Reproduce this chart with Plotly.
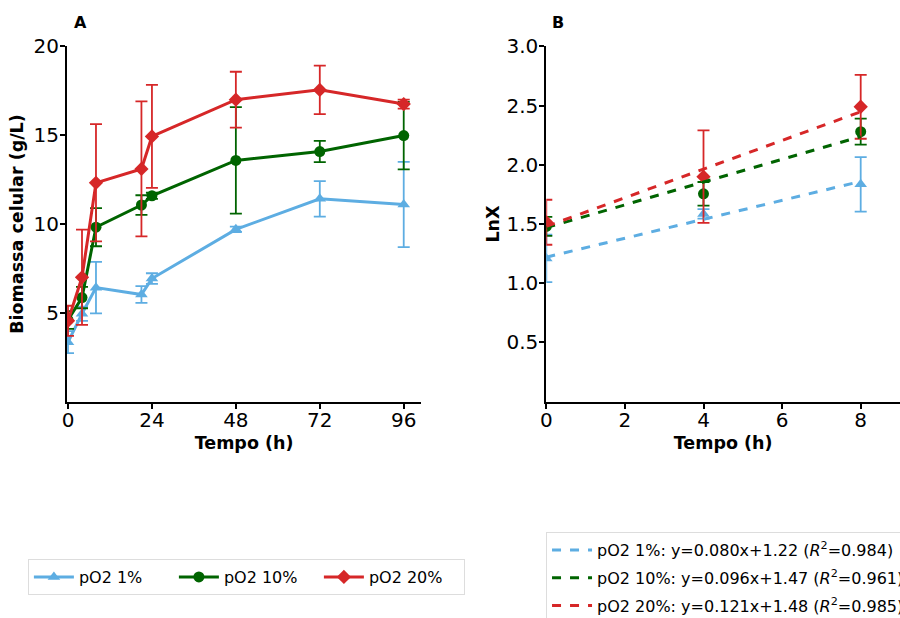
import plotly.graph_objects as go

# ---- Panel A data ----
tempo = [0, 4, 8, 21, 24, 48, 72, 96]
x_1 = [3.35, 4.95, 6.42, 6.03, 6.93, 9.70, 11.42, 11.10]
e_1 = [0.62, 0.40, 1.45, 0.47, 0.30, 0.15, 1.00, 2.40]
x_10 = [4.60, 5.86, 9.82, 11.07, 11.59, 13.58, 14.08, 14.98]
e_10 = [0.50, 0.60, 1.07, 0.55, 0.17, 3.00, 0.60, 1.90]
x_20 = [4.55, 7.00, 12.32, 13.10, 14.93, 17.00, 17.55, 16.75]
e_20 = [0.85, 2.68, 3.30, 3.80, 2.90, 1.57, 1.37, 0.25]

# ---- Panel B data ----
tempo_b = [0, 4, 8]
ln_1 = [1.21, 1.585, 1.835]
le_1 = [0.20, 0.04, 0.23]
ln_10 = [1.48, 1.755, 2.28]
le_10 = [0.08, 0.10, 0.11]
ln_20 = [1.515, 1.90, 2.49]
le_20 = [0.19, 0.39, 0.27]

slopes = [0.080, 0.096, 0.121]
intercepts = [1.22, 1.47, 1.48]
r2 = [0.984, 0.961, 0.985]
labels = ["pO2 1%", "pO2 10%", "pO2 20%"]
fit_x = [0, 8]

colors = ["#5DADE2", "#006400", "#D62728"]
symbols = ["triangle-up", "circle", "diamond"]

fig = go.Figure()

for vals, errs, c, s, lab in zip([x_1, x_10, x_20], [e_1, e_10, e_20], colors, symbols, labels):
    fig.add_trace(go.Scatter(
        x=tempo, y=vals, mode="lines+markers", name=lab,
        line=dict(color=c, width=3),
        marker=dict(symbol=s, size=11, color=c),
        error_y=dict(type="data", array=errs, visible=True, color=c, thickness=1.8, width=6),
        xaxis="x", yaxis="y", legend="legend",
    ))

for vals, errs, c, s, lab in zip([ln_1, ln_10, ln_20], [le_1, le_10, le_20], colors, symbols, labels):
    fig.add_trace(go.Scatter(
        x=tempo_b, y=vals, mode="markers", name=lab, showlegend=False,
        marker=dict(symbol=s, size=11, color=c),
        error_y=dict(type="data", array=errs, visible=True, color=c, thickness=1.8, width=6),
        xaxis="x2", yaxis="y2",
    ))

for i, (m, b, r, c, lab) in enumerate(zip(slopes, intercepts, r2, colors, labels)):
    fy = [m * xx + b for xx in fit_x]
    fig.add_trace(go.Scatter(
        x=fit_x, y=fy, mode="lines",
        name=f"{lab}: y={m:.3f}x+{b:.2f} (<i>R</i><sup>2</sup>={r:.3f})",
        line=dict(color=c, width=3, dash="dash"),
        xaxis="x2", yaxis="y2", legend="legend2", legendgroup=f"fit{i}",
    ))

axis_common = dict(
    showline=True, linecolor="black", linewidth=2, mirror=False,
    ticks="outside", ticklen=5, tickwidth=1.5, tickcolor="black",
    showgrid=False, zeroline=False, automargin=False,
    tickfont=dict(family="DejaVu Sans", size=20, color="black"),
)
title_font = dict(family="DejaVu Sans", size=17.5, color="black")

fig.update_layout(
    width=900, height=618,
    margin=dict(l=0, r=0, t=0, b=0, autoexpand=False),
    plot_bgcolor="white", paper_bgcolor="white",
    font=dict(family="DejaVu Sans", color="black"),
    xaxis=dict(axis_common, domain=[0.0744, 0.468], range=[-0.3, 101],
               tickvals=[0, 24, 48, 72, 96], anchor="y", ticklabelstandoff=-6,
               title=dict(text="<b>Tempo (h)</b>", font=title_font, standoff=6)),
    yaxis=dict(axis_common, domain=[0.35, 0.925], range=[0, 20],
               tickvals=[5, 10, 15, 20], anchor="x", ticklabelstandoff=-3,
               title=dict(text="<b>Biomassa celular (g/L)</b>", font=title_font, standoff=5)),
    xaxis2=dict(axis_common, domain=[0.607, 1.0], range=[0, 9],
                tickvals=[0, 2, 4, 6, 8], anchor="y2", ticklabelstandoff=-6,
                title=dict(text="<b>Tempo (h)</b>", font=title_font, standoff=6)),
    yaxis2=dict(axis_common, domain=[0.35, 0.925], range=[0, 3.0],
                tickvals=[0.5, 1.0, 1.5, 2.0, 2.5, 3.0], tickformat=".1f", anchor="x2",
                ticklabelstandoff=-3,
                title=dict(text="<b>LnX</b>", font=title_font, standoff=2)),
    legend=dict(orientation="h", x=0.031, y=1 - 577 / 618, xanchor="left", yanchor="middle",
                bgcolor="white", bordercolor="#dddddd", borderwidth=1,
                font=dict(family="DejaVu Sans", size=16), itemwidth=40,
                entrywidth=90, entrywidthmode="pixels"),
    legend2=dict(orientation="v", x=0.6067, y=1 - 532 / 618, xanchor="left", yanchor="top",
                 bgcolor="white", bordercolor="#dddddd", borderwidth=1,
                 font=dict(family="DejaVu Sans", size=16), tracegroupgap=4, itemwidth=40),
    annotations=[
        dict(text="<b>A</b>", x=80 / 900, y=1 - 22 / 618, xref="paper", yref="paper",
             xanchor="center", yanchor="middle",
             showarrow=False, font=dict(family="DejaVu Sans", size=16)),
        dict(text="<b>B</b>", x=558 / 900, y=1 - 22 / 618, xref="paper", yref="paper",
             xanchor="center", yanchor="middle",
             showarrow=False, font=dict(family="DejaVu Sans", size=16)),
    ],
)

fig.write_html("out.html")
